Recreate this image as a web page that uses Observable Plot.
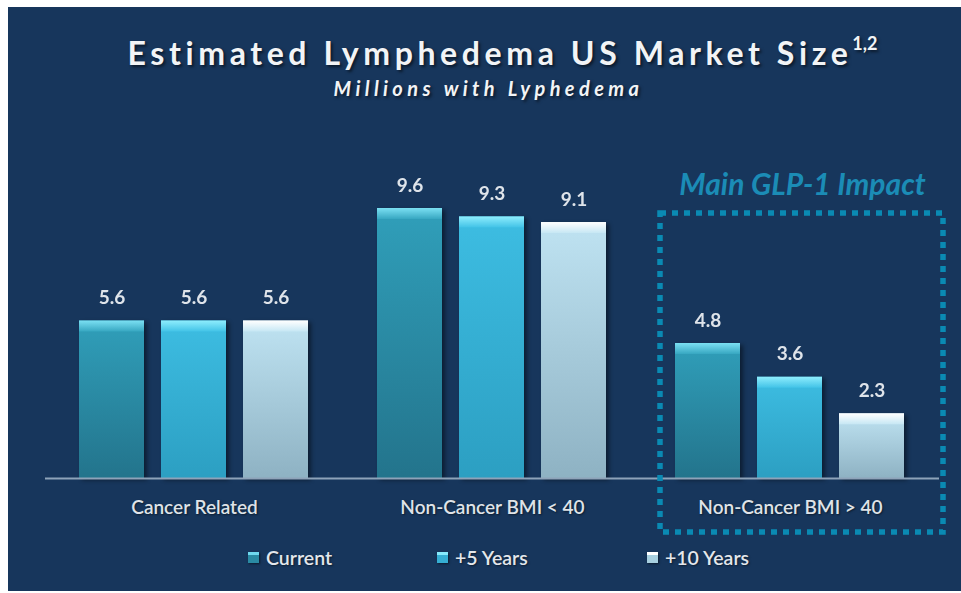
<!DOCTYPE html>
<html>
<head>
<meta charset="utf-8">
<script src="https://cdn.jsdelivr.net/npm/d3@7"></script>
<script src="https://cdn.jsdelivr.net/npm/@observablehq/plot@0.6"></script>
<style>
  html, body { margin: 0; padding: 0; background: #ffffff; }
  #panel {
    position: absolute; left: 8px; top: 7px; width: 953px; height: 584px;
    background: #17365c; overflow: hidden; font-family: Lato, "Open Sans", sans-serif;
  }
  #title {
    position: absolute; left: 18px; width: 953px; top: 23px; text-align: center;
    font-size: 32px; font-weight: bold; letter-spacing: 4.6px; color: #f2f4f6; line-height: 32px;
    text-shadow: 2px 2px 3px rgba(0,0,0,0.55);
  }
  #title sup { font-size: 18px; letter-spacing: 0; position: relative; top: -3px; }
  #subtitle {
    position: absolute; left: 4px; width: 953px; top: 71px; text-align: center;
    font-size: 20px; font-weight: bold; font-style: italic; letter-spacing: 4.4px; color: #f2f4f6;
    line-height: 20px; text-shadow: 2px 2px 3px rgba(0,0,0,0.55);
  }
  #chart { position: absolute; left: 0; top: 103px; }
  #legend {
    position: absolute; top: 539px; left: 240px; display: flex; align-items: center;
    font-size: 19.5px; font-weight: 600; color: #e3e7ec; text-shadow: 1px 1px 2px rgba(0,0,0,0.5);
  }
  .item { display: flex; align-items: center; }
  .sw { width: 11px; height: 11px; margin-right: 7px; box-shadow: 1px 1px 2px rgba(0,0,0,0.5); }
</style>
</head>
<body>
<div id="panel">
  <div id="title">Estimated Lymphedema US Market Size<sup>1,2</sup></div>
  <div id="subtitle">Millions with Lyphedema</div>
  <div id="chart"></div>
  <div id="legend"></div>
</div>
<script>
// ---- data ----
const categories = ["Cancer Related", "Non-Cancer BMI < 40", "Non-Cancer BMI > 40"];
const series = ["Current", "+5 Years", "+10 Years"];
const current = [5.6, 9.6, 4.8];
const plus5 = [5.6, 9.3, 3.6];
const plus10 = [5.6, 9.1, 2.3];
const annotation = "Main GLP-1 Impact";
const annotatedCategory = "Non-Cancer BMI > 40";

// ---- styles ----
const gradIds = ["gCur", "gP5", "gP10"];
const bevelIds = ["bCur", "bP5", "bP10"];
const barStops = [["#309fba", "#23748c"], ["#3dbde2", "#2c9fc2"], ["#bfe3f2", "#8eb2c3"]];
const bevelStops = [["#7be0f3", "#37a7c1"], ["#8eedfd", "#42c3e7"], ["#ffffff", "#c6e7f4"]];
const swatchCss = [
  "linear-gradient(#6fd8ee 0 30%, #2a8aa3 30% 100%)",
  "linear-gradient(#86eafc 0 30%, #35aed3 30% 100%)",
  "linear-gradient(#ffffff 0 30%, #a7cfdf 30% 100%)"
];

const values = [current, plus5, plus10];
const data = categories.flatMap((c, i) => series.map((s, j) => ({category: c, series: s, value: values[j][i]})));
const fmt = d3.format(".1f");

const marks = [];
series.forEach((s, j) => {
  marks.push(Plot.barY(data, {filter: d => d.series === s, fx: "category", x: "series", y: "value", fill: `url(#${gradIds[j]})`}));
});
series.forEach((s, j) => {
  marks.push(Plot.barY(data, {filter: d => d.series === s, fx: "category", x: "series", y1: "value", y2: "value", insetBottom: -11, fill: `url(#${bevelIds[j]})`}));
});
marks.push(Plot.ruleY([0], {stroke: "#8ea3b9", strokeWidth: 2}));
marks.push(Plot.text(data, {fx: "category", x: "series", y: "value", text: d => fmt(d.value), dy: -23, fontSize: 19, fontWeight: "bold", fill: "#dfe4ea"}));
marks.push(Plot.text([annotation], {fx: () => annotatedCategory, text: d => d, frameAnchor: "top", dy: -35, dx: 12, fontSize: 30, fontWeight: "bold", fontStyle: "italic", fill: "#1b8cb6"}));
marks.push(Plot.rect([annotatedCategory], {fx: d => d, fill: "none", stroke: "#0a8ab3", strokeWidth: 5.5, strokeDasharray: "6,6", insetLeft: 19, insetRight: -4, insetTop: 5, insetBottom: -54}));

const chart = Plot.plot({
  width: 953, height: 430,
  marginLeft: 37, marginRight: 22, marginTop: 98, marginBottom: 62,
  style: {background: "transparent", color: "#dfe3e8", fontFamily: "Lato, 'Open Sans', sans-serif", fontSize: "19px", fontWeight: 600, overflow: "visible"},
  fx: {domain: categories, padding: 0, label: null, axis: "bottom", tickSize: 0, tickPadding: 22},
  x: {domain: series, axis: null, paddingInner: 0.207, paddingOuter: 0.42},
  y: {domain: [0, 9.6], axis: null},
  marks
});

const svg = d3.select(chart);
const defs = svg.insert("defs", ":first-child");
function grad(id, stops) {
  const g = defs.append("linearGradient").attr("id", id).attr("x1", 0).attr("y1", 0).attr("x2", 0).attr("y2", 1);
  g.append("stop").attr("offset", "0%").attr("stop-color", stops[0]);
  g.append("stop").attr("offset", "100%").attr("stop-color", stops[1]);
}
gradIds.forEach((id, j) => grad(id, barStops[j]));
bevelIds.forEach((id, j) => grad(id, bevelStops[j]));
svg.selectAll("g[aria-label='bar']").filter((d, i) => i < 3).style("filter", "drop-shadow(3px 2px 2px rgba(0,0,0,0.45))");
svg.selectAll("g[aria-label='fx-axis tick label'] text, g[aria-label='fx-axis'] text").style("text-shadow", "1px 1px 2px rgba(0,0,0,0.5)");
document.getElementById("chart").appendChild(chart);

// ---- legend ----
const legend = d3.select("#legend");
const widths = [189, 210, null];
series.forEach((s, j) => {
  const it = legend.append("div").attr("class", "item");
  if (widths[j]) it.style("width", widths[j] + "px");
  it.append("div").attr("class", "sw").style("background", swatchCss[j]);
  it.append("span").text(s);
});
</script>
</body>
</html>
